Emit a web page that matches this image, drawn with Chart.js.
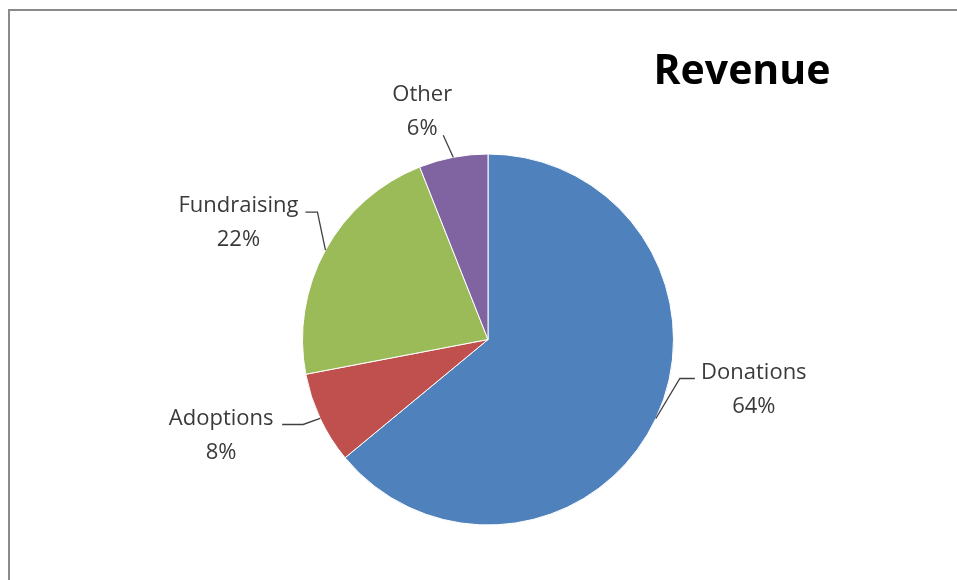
<!DOCTYPE html>
<html><head><meta charset="utf-8">
<script src="https://cdn.jsdelivr.net/npm/chart.js@4.4.0/dist/chart.umd.min.js"></script>
<style>html,body{margin:0;padding:0;background:#fff;overflow:hidden}#wrap{position:relative;width:957px;height:580px}</style>
</head><body><div id="wrap"><canvas id="c" width="957" height="580"></canvas></div>
<script>
const categories = ['Donations', 'Adoptions', 'Fundraising', 'Other'];
const values = [64, 8, 22, 6];
const percentLabels = ['64%', '8%', '22%', '6%'];
const chartTitle = 'Revenue';

const colors = ['#4F81BD', '#C0504D', '#9BBB59', '#8064A2'];
// leader/label layout relative to the slice's mid point on the outer edge
const labelLayout = [
  {elbow: [24, -40], end: [39, -40], text: [98, -46]},
  {elbow: [-17, 6], end: [-38, 6], text: [-99, 0]},
  {elbow: [-8, -38], end: [-20, -38], text: [-87, -44]},
  {elbow: [-10, -22], end: [-10, -22], text: [-31, -63]}
];
const labelFont = '22px "Open Sans"';
const labelColor = '#3a3a3a';
const lineGap = 34;

const decor = {
  id: 'decor',
  beforeDraw(chart) {
    const ctx = chart.ctx;
    ctx.save();
    ctx.strokeStyle = '#8a8a8a';
    ctx.lineWidth = 2;
    ctx.beginPath();
    ctx.moveTo(9, 580); ctx.lineTo(9, 10); ctx.lineTo(957, 10);
    ctx.stroke();
    ctx.restore();
  },
  afterDraw(chart) {
    const ctx = chart.ctx;
    const meta = chart.getDatasetMeta(0);
    ctx.save();
    ctx.font = 'bold 41px "Open Sans"';
    ctx.fillStyle = '#000';
    ctx.textAlign = 'center';
    ctx.textBaseline = 'middle';
    ctx.fillText(chartTitle, 742, 72);
    meta.data.forEach((arc, i) => {
      const p = arc.getProps(['x', 'y', 'startAngle', 'endAngle', 'outerRadius'], true);
      const mid = (p.startAngle + p.endAngle) / 2;
      const ax = p.x + Math.cos(mid) * p.outerRadius;
      const ay = p.y + Math.sin(mid) * p.outerRadius;
      const L = labelLayout[i];
      ctx.strokeStyle = '#404040';
      ctx.lineWidth = 1.3;
      ctx.beginPath();
      ctx.moveTo(ax, ay);
      ctx.lineTo(ax + L.elbow[0], ay + L.elbow[1]);
      ctx.lineTo(ax + L.end[0], ay + L.end[1]);
      ctx.stroke();
      ctx.font = labelFont;
      ctx.fillStyle = labelColor;
      ctx.textAlign = 'center';
      ctx.textBaseline = 'middle';
      const tx = ax + L.text[0], ty = ay + L.text[1];
      ctx.fillText(categories[i], tx, ty);
      ctx.fillText(percentLabels[i], tx, ty + lineGap);
    });
    ctx.restore();
  }
};

new Chart(document.getElementById('c'), {
  type: 'pie',
  data: {
    labels: categories,
    datasets: [{
      data: values,
      backgroundColor: colors,
      borderColor: '#ffffff',
      borderWidth: 1
    }]
  },
  options: {
    responsive: false,
    animation: false,
    devicePixelRatio: 1,
    layout: {padding: {left: 302, right: 283, top: 153, bottom: 54}},
    plugins: {legend: {display: false}, tooltip: {enabled: false}, title: {display: false}}
  },
  plugins: [decor]
});
</script>
</body></html>
